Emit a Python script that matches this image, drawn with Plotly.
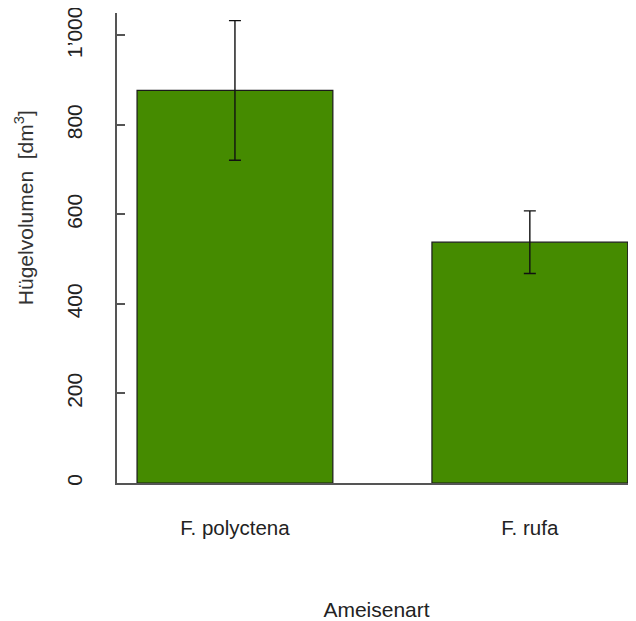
import plotly.graph_objects as go

categories = ["F. polyctena", "F. rufa"]
values = [877, 538]
errors = [156, 70]
y_ticks = [0, 200, 400, 600, 800, 1000]
y_tick_labels = ["0", "200", "400", "600", "800", "1\u2019000"]
y_title = "Hügelvolumen  [dm<sup>3</sup>]"
x_title = "Ameisenart"

xpos = list(range(len(categories)))

fig = go.Figure()
fig.add_trace(go.Bar(
    x=xpos, y=values, width=0.664,
    marker=dict(color="#458B00", line=dict(color="#1a1a1a", width=1.2)),
    error_y=dict(type="data", array=errors, color="#111111", thickness=1.4, width=6),
    showlegend=False,
))

font_family = "Liberation Sans, Arial, sans-serif"
fig.update_layout(
    width=628, height=613,
    margin=dict(l=109, r=0, t=5, b=138),
    paper_bgcolor="white", plot_bgcolor="white",
    font=dict(family=font_family, color="#222222"),
    xaxis=dict(
        range=[-0.4, 1.36], tickvals=xpos, ticktext=categories,
        showline=True, linecolor="#555555", linewidth=1.5,
        ticks="", showgrid=False, zeroline=False,
        tickfont=dict(size=20.5, color="#222222"),
        ticklabelstandoff=26,
        title=dict(text=x_title, font=dict(size=21, color="#222222"), standoff=65),
    ),
    yaxis=dict(
        range=[0, 1050], tickvals=y_ticks, ticktext=y_tick_labels,
        showline=True, linecolor="#555555", linewidth=1.5,
        ticks="inside", ticklen=8, tickcolor="#555555", tickwidth=1.5,
        showgrid=False, zeroline=False, tickangle=-90,
        ticklabeloverflow="allow",
        tickfont=dict(size=21, color="#222222"),
        ticklabelstandoff=25,
    ),
)

fig.add_annotation(
    text=y_title, textangle=-90, showarrow=False,
    xref="paper", yref="paper", x=-0.179, y=0.585,
    xanchor="center", yanchor="middle",
    font=dict(size=21, color="#333333"),
)

fig.write_html("out.html")
